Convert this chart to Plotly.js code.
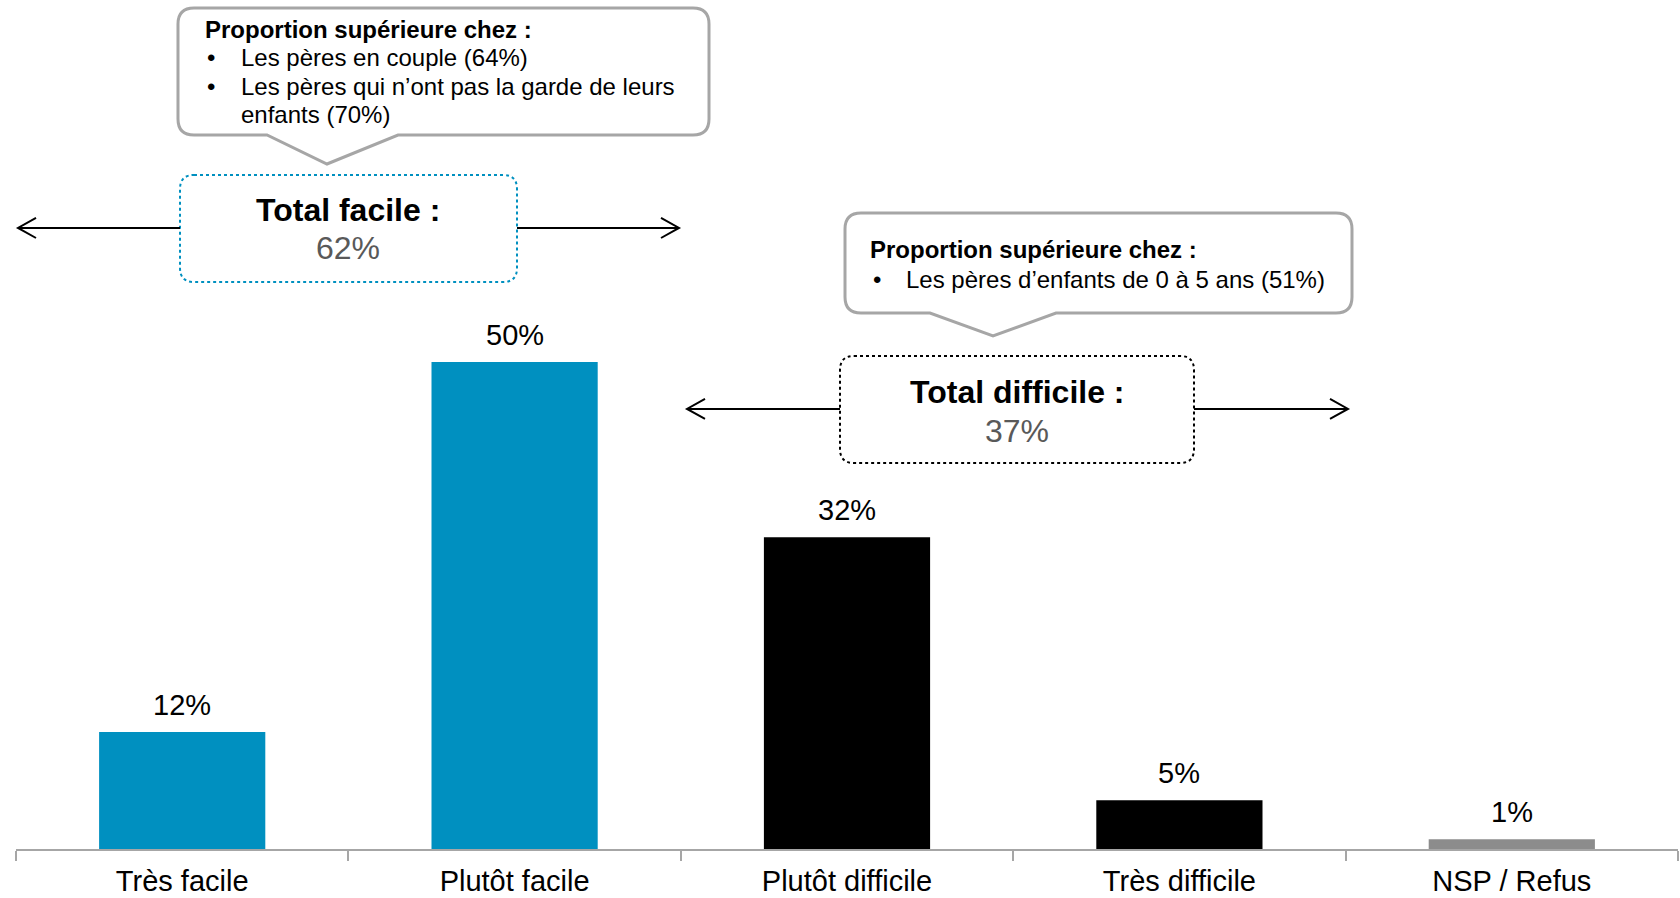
<!DOCTYPE html>
<html>
<head>
<meta charset="utf-8">
<script src="https://cdn.plot.ly/plotly-3.0.1.min.js"></script>
<style>html,body{margin:0;padding:0;background:#fff;}#chart{width:1680px;height:898px;}</style>
</head>
<body>
<div id="chart"></div>
<script>
const categories = ["Très facile", "Plutôt facile", "Plutôt difficile", "Très difficile", "NSP / Refus"];
const values = [12, 50, 32, 5, 1];
const valueLabels = ["12%", "50%", "32%", "5%", "1%"];
const barColors = ["#0090C0", "#0090C0", "#000000", "#000000", "#8C8C8C"];

const totalFacileLabel = "Total facile :";
const totalFacileValue = "62%";
const totalDifficileLabel = "Total difficile :";
const totalDifficileValue = "37%";
const calloutTitle = "Proportion supérieure chez :";
const callout1Lines = ["Les pères en couple (64%)", "Les pères qui n’ont pas la garde de leurs", "enfants (70%)"];
const callout2Lines = ["Les pères d’enfants de 0 à 5 ans (51%)"];

const W = 1680, H = 898, ML = 16, MR = 2, MT = 0, MB = 49;
const PW = W - ML - MR, PH = H - MT - MB;
const px = x => (x - ML) / PW;
const py = y => (H - MB - y) / PH;
const FONT = "Liberation Sans, Arial, sans-serif";

function calloutPath(x0, y0, x1, y1, r, bl, tipx, tipy, br) {
  const P = (x, y) => px(x).toFixed(5) + "," + py(y).toFixed(5);
  return "M" + P(x0 + r, y0) + " L" + P(x1 - r, y0) + " Q" + P(x1, y0) + " " + P(x1, y0 + r) +
    " L" + P(x1, y1 - r) + " Q" + P(x1, y1) + " " + P(x1 - r, y1) +
    " L" + P(br, y1) + " L" + P(tipx, tipy) + " L" + P(bl, y1) +
    " L" + P(x0 + r, y1) + " Q" + P(x0, y1) + " " + P(x0, y1 - r) +
    " L" + P(x0, y0 + r) + " Q" + P(x0, y0) + " " + P(x0 + r, y0) + " Z";
}
function roundRect(x0, y0, x1, y1, r) {
  const P = (x, y) => px(x).toFixed(5) + "," + py(y).toFixed(5);
  return "M" + P(x0 + r, y0) + " L" + P(x1 - r, y0) + " Q" + P(x1, y0) + " " + P(x1, y0 + r) +
    " L" + P(x1, y1 - r) + " Q" + P(x1, y1) + " " + P(x1 - r, y1) +
    " L" + P(x0 + r, y1) + " Q" + P(x0, y1) + " " + P(x0, y1 - r) +
    " L" + P(x0, y0 + r) + " Q" + P(x0, y0) + " " + P(x0 + r, y0) + " Z";
}
function arrowPath(xs, xt, y) {
  const P = (x, yy) => px(x).toFixed(5) + "," + py(yy).toFixed(5);
  const d = xt > xs ? -1 : 1;
  return "M" + P(xs, y) + " L" + P(xt, y) + " M" + P(xt + d * 18, y - 10) + " L" + P(xt, y) + " L" + P(xt + d * 18, y + 10);
}

const shapes = [
  {type: "path", xref: "paper", yref: "paper", path: calloutPath(178, 8, 709, 135, 16, 267, 327, 164, 398),
   line: {color: "#A6A6A6", width: 3}, fillcolor: "#FFFFFF"},
  {type: "path", xref: "paper", yref: "paper", path: calloutPath(845, 213, 1352, 313, 16, 930, 993, 336, 1056),
   line: {color: "#A6A6A6", width: 3}, fillcolor: "#FFFFFF"},
  {type: "path", xref: "paper", yref: "paper", path: roundRect(180, 175, 517, 282, 14),
   line: {color: "#0090C0", width: 2, dash: "dot"}},
  {type: "path", xref: "paper", yref: "paper", path: roundRect(840, 356, 1194, 463, 14),
   line: {color: "#000000", width: 2, dash: "dot"}},
  {type: "path", xref: "paper", yref: "paper", path: arrowPath(180, 18, 228), line: {color: "#000", width: 2}},
  {type: "path", xref: "paper", yref: "paper", path: arrowPath(517, 679, 228), line: {color: "#000", width: 2}},
  {type: "path", xref: "paper", yref: "paper", path: arrowPath(840, 687, 409), line: {color: "#000", width: 2}},
  {type: "path", xref: "paper", yref: "paper", path: arrowPath(1194, 1348, 409), line: {color: "#000", width: 2}}
];

const ann = [];
function txt(text, x, y, size, opts) {
  ann.push(Object.assign({text: text, xref: "paper", yref: "paper", x: px(x), y: py(y), showarrow: false,
    xanchor: "left", yanchor: "middle", font: {family: FONT, size: size, color: "#000"}}, opts || {}));
}
// callout 1
txt("<b>" + calloutTitle + "</b>", 203, 29, 24);
txt("•", 205, 57, 24); txt(callout1Lines[0], 239, 57, 24);
txt("•", 205, 86, 24); txt(callout1Lines[1], 239, 86, 24);
txt(callout1Lines[2], 239, 115, 24);
// callout 2
txt("<b>" + calloutTitle + "</b>", 868, 250, 24);
txt("•", 871, 279, 24); txt(callout2Lines[0], 904, 279, 24);
// totals
txt("<b>" + totalFacileLabel + "</b>", 348, 210, 32, {xanchor: "center"});
txt(totalFacileValue, 348, 248, 32, {xanchor: "center", font: {family: FONT, size: 32, color: "#595959"}});
txt("<b>" + totalDifficileLabel + "</b>", 1017, 392, 32, {xanchor: "center"});
txt(totalDifficileValue, 1017, 431, 32, {xanchor: "center", font: {family: FONT, size: 32, color: "#595959"}});
// bar value labels
categories.forEach((c, i) => {
  ann.push({x: c, y: values[i], xref: "x", yref: "y", text: valueLabels[i], showarrow: false,
    xanchor: "center", yanchor: "middle", yshift: 27, font: {family: FONT, size: 29, color: "#000"}});
});

const trace = {
  type: "bar", x: categories, y: values, width: 0.5,
  marker: {color: barColors, line: {width: 0}}, hoverinfo: "skip"
};

const layout = {
  width: W, height: H,
  margin: {l: ML, r: MR, t: MT, b: MB, pad: 0},
  paper_bgcolor: "#fff", plot_bgcolor: "#fff",
  showlegend: false,
  bargap: 0.5,
  xaxis: {
    type: "category", range: [-0.5, 4.5], showline: true, linecolor: "#A6A6A6", linewidth: 2,
    ticks: "outside", tickson: "boundaries", ticklen: 10, tickwidth: 2, tickcolor: "#A6A6A6",
    ticklabelstandoff: 5,
    showgrid: false, zeroline: false, fixedrange: true,
    tickfont: {family: FONT, size: 29, color: "#000"}
  },
  yaxis: {range: [0, 87.17], visible: false, showgrid: false, zeroline: false, fixedrange: true},
  shapes: shapes,
  annotations: ann
};

Plotly.newPlot("chart", [trace], layout, {displayModeBar: false, staticPlot: true});
</script>
</body>
</html>
